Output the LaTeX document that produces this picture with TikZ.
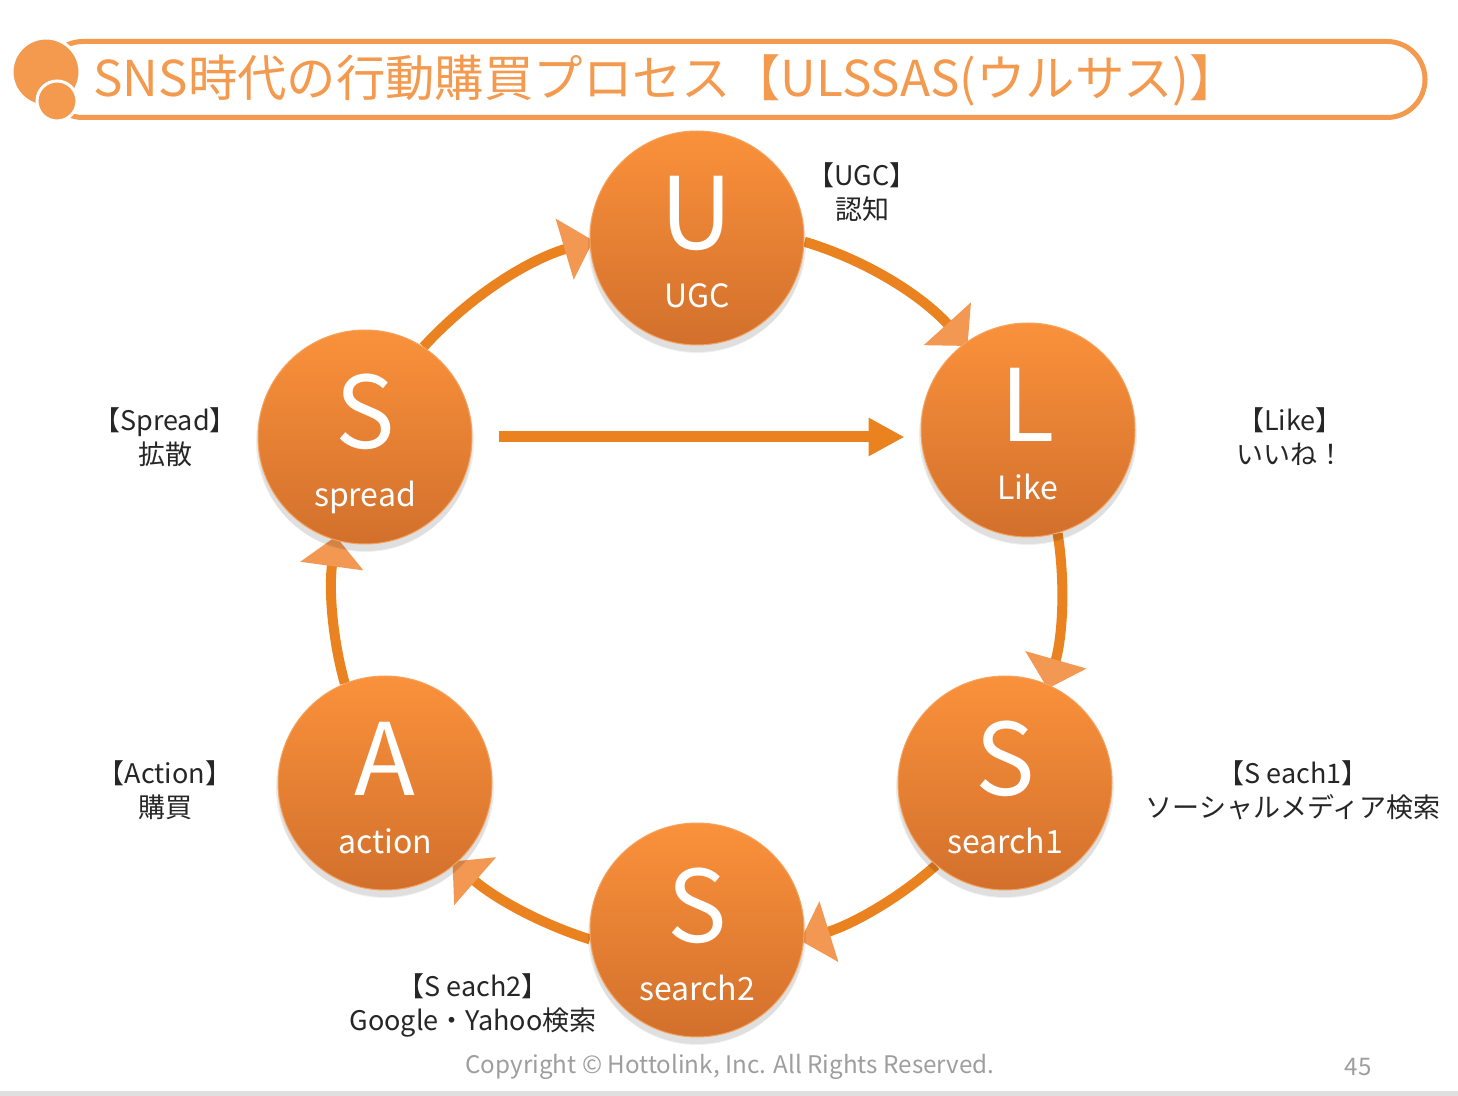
\documentclass[tikz,border=0pt]{standalone}
\usepackage{fontspec}
\setmainfont{Noto Sans CJK JP}
\usetikzlibrary{arrows.meta,calc,backgrounds}
\definecolor{cTitle}{HTML}{F39A4F}
\definecolor{cTop}{HTML}{FA913B}
\definecolor{cBot}{HTML}{D2702C}
\definecolor{cEdge}{HTML}{F4A35E}
\definecolor{cLine}{HTML}{E9821F}
\definecolor{cHead}{HTML}{F29852}
\definecolor{cText}{HTML}{262626}
\definecolor{cFoot}{HTML}{9E9E9E}
\tikzset{
  bub/.style={circle, minimum size=107pt, inner sep=0pt, top color=cTop, bottom color=cBot, draw=cEdge, line width=0.5pt},
  bigl/.style={text=white, font=\fontsize{50}{50}\selectfont, anchor=base, inner sep=0pt},
  smalll/.style={text=white, font=\fontsize{16}{16}\selectfont, anchor=base, inner sep=0pt},
  lab/.style={text=cText, font=\fontsize{13.5}{17}\selectfont, align=center, inner sep=0pt},
  conn/.style={draw=cLine, line width=5pt, -{Triangle[length=15pt,width=31pt,color=cHead]}, shorten >=-2pt},
  strt/.style={draw=cLine, line width=5.5pt, -{Triangle[length=18pt,width=18pt]}},
  foot/.style={text=cFoot, font=\fontsize{12.1}{13}\selectfont, inner sep=0pt},
  ttl/.style={text=cTitle, font=\fontsize{24.7}{25}\selectfont, anchor=west, inner sep=0pt}
}
\begin{document}
\begin{tikzpicture}[x=0.5pt,y=-0.5pt]
\useasboundingbox (0,0) rectangle (1458,1096);
% title bar
\draw[cTitle, line width=2.5pt, rounded corners=19pt] (45,41.5) rectangle (1425,117.5);
\filldraw[fill=cTitle, draw=white, line width=1.5pt] (46,72) circle[radius=34];
\filldraw[fill=cTitle, draw=white, line width=1.5pt] (57,101) circle[radius=20];
\node[ttl] (title) at (93,80) {SNS時代の行動購買プロセス【ULSSAS(ウルサス)】};
% bubbles
\node[bub] (U) at (697,238) {};
\node[bub] (L) at (1028,430) {};
\node[bub] (Sp) at (365,437) {};
\node[bub] (S1) at (1005,783) {};
\node[bub] (S2) at (697,930) {};
\node[bub] (A) at (385,783) {};
\node[bigl] (Ub) at ($(U)+(0,12)$) {U};
\node[smalll] (Us) at ($(U)+(0,70)$) {UGC};
\node[bigl] (Lb) at ($(L)+(0,12)$) {L};
\node[smalll] (Ls) at ($(L)+(0,70)$) {Like};
\node[bigl] (Spb) at ($(Sp)+(0,12)$) {S};
\node[smalll] (Sps) at ($(Sp)+(0,70)$) {spread};
\node[bigl] (S1b) at ($(S1)+(0,12)$) {S};
\node[smalll] (S1s) at ($(S1)+(0,70)$) {search1};
\node[bigl] (S2b) at ($(S2)+(0,12)$) {S};
\node[smalll] (S2s) at ($(S2)+(0,70)$) {search2};
\node[bigl] (Ab) at ($(A)+(0,12)$) {A};
\node[smalll] (As) at ($(A)+(0,70)$) {action};
% side labels
\node[lab] (lU) at (862,192) {【UGC】\\認知};
\node[lab] (lL) at (1290,437) {【Like】\\いいね！};
\node[lab] (lSp) at (165,437) {【Spread】\\拡散};
\node[lab] (lA) at (165,790) {【Action】\\購買};
\node[lab] (lS1) at (1293,790) {【S each1】\\ソーシャルメディア検索};
\node[lab] (lS2) at (473,1005) {【S each2】\\Google・Yahoo検索};
% footer
\node[foot] (copy) at (730,1067) {Copyright © Hottolink, Inc. All Rights Reserved.};
\node[foot] (pg) at (1358,1067) {45};
\begin{pgfonlayer}{background}
\fill[white] (0,0) rectangle (1458,1096);
\fill[black!12] (0,1091) rectangle (1458,1096);
\draw[conn] (Sp.57) .. controls (469.0,297.3) and (526.3,260.5) .. (U.182);
\draw[conn] (U.-2) .. controls (865.4,259.9) and (921.0,294.7) .. (L.126);
\draw[conn] (L.-74) .. controls (1065.6,583.9) and (1062.7,635.9) .. (S1.66);
\draw[conn] (S1.-130) .. controls (897.9,899.0) and (852.6,924.2) .. (S2.-5);
\draw[conn] (S2.185) .. controls (540.4,923.8) and (494.3,898.0) .. (A.-49);
\draw[conn] (A.112) .. controls (331.9,637.0) and (328.8,588.4) .. (Sp.-106);
\draw[strt, shorten <=13pt, shorten >=8pt] (Sp.east) -- (Sp.east -| L.west);
\foreach \n in {U,L,Sp,S1,S2,A}{
  \fill[black, opacity=0.07] ($(\n)+(0,5)$) circle[radius=109];
  \fill[black, opacity=0.06] ($(\n)+(0,8)$) circle[radius=107];
}
\end{pgfonlayer}
\end{tikzpicture}
\end{document}
